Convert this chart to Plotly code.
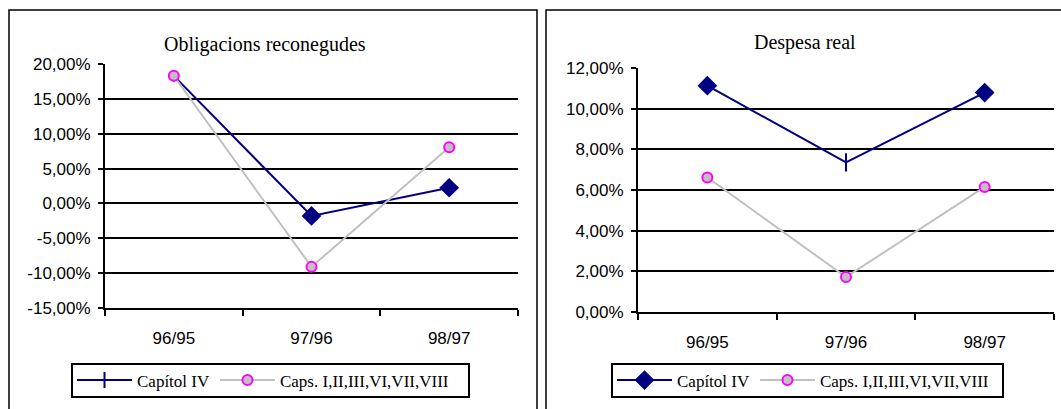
import plotly.graph_objects as go

W, H = 1061, 409

categories = ["96/95", "97/96", "98/97"]

# Left chart: Obligacions reconegudes (%)
oblig_cap4 = [18.3, -1.8, 2.25]
oblig_caps = [18.3, -9.1, 8.05]
oblig_ticks = [-15, -10, -5, 0, 5, 10, 15, 20]
oblig_ticktext = ["-15,00%", "-10,00%", "-5,00%", "0,00%", "5,00%", "10,00%", "15,00%", "20,00%"]

# Right chart: Despesa real (%)
desp_cap4 = [11.13, 7.36, 10.79]
desp_caps = [6.62, 1.72, 6.15]
desp_ticks = [0, 2, 4, 6, 8, 10, 12]
desp_ticktext = ["0,00%", "2,00%", "4,00%", "6,00%", "8,00%", "10,00%", "12,00%"]

series_names = ["Capítol IV", "Caps. I,II,III,VI,VII,VIII"]
titles = ["Obligacions reconegudes", "Despesa real"]

NAVY = "#000080"
GRAY = "#C0C0C0"
MAGENTA = "#FF00FF"
SERIF = "Liberation Serif, Times New Roman, serif"
SANS = "Liberation Sans, Arial, sans-serif"

def px(x):
    return x / W

def py(y):
    return 1 - y / H

fig = go.Figure()

# left chart traces
fig.add_trace(go.Scatter(
    x=categories, y=oblig_cap4, name=series_names[0], mode="lines+markers",
    line=dict(color=NAVY, width=2),
    marker=dict(symbol=["line-ns", "diamond", "diamond"], size=[8, 13, 13], color=NAVY,
                opacity=1, line=dict(color=NAVY, width=2)),
    xaxis="x", yaxis="y", legend="legend"))
fig.add_trace(go.Scatter(
    x=categories, y=oblig_caps, name=series_names[1], mode="lines+markers",
    line=dict(color=GRAY, width=2),
    marker=dict(symbol="circle", size=10, color=GRAY, opacity=1,
                line=dict(color=MAGENTA, width=2)),
    xaxis="x", yaxis="y", legend="legend"))

# right chart traces
fig.add_trace(go.Scatter(
    x=categories, y=desp_cap4, name=series_names[0], mode="lines+markers",
    line=dict(color=NAVY, width=2),
    marker=dict(symbol=["diamond", "line-ns", "diamond"], size=[13, 13, 13], color=NAVY,
                opacity=1, line=dict(color=NAVY, width=2)),
    xaxis="x2", yaxis="y2", legend="legend2"))
fig.add_trace(go.Scatter(
    x=categories, y=desp_caps, name=series_names[1], mode="lines+markers",
    line=dict(color=GRAY, width=2),
    marker=dict(symbol="circle", size=10, color=GRAY, opacity=1,
                line=dict(color=MAGENTA, width=2)),
    xaxis="x2", yaxis="y2", legend="legend2"))

tick_font = dict(family=SANS, size=17, color="black")

xaxis_common = dict(
    type="category", tickson="boundaries", ticks="outside", ticklen=6, tickwidth=2,
    tickcolor="black", showline=True, linecolor="black", linewidth=2,
    showgrid=False, zeroline=False, tickfont=tick_font, range=[-0.5, 2.5],
    ticklabelstandoff=14, fixedrange=True)
yaxis_common = dict(
    ticks="outside", ticklen=5, tickwidth=2, tickcolor="black",
    showline=True, linecolor="black", linewidth=2,
    showgrid=True, gridcolor="black", gridwidth=2, zeroline=False,
    tickfont=tick_font, ticklabelstandoff=4, fixedrange=True)

legend_font = dict(family=SERIF, size=17, color="black")

fig.update_layout(
    width=W, height=H, margin=dict(l=0, r=0, t=0, b=0, autoexpand=False),
    paper_bgcolor="white", plot_bgcolor="white",
    showlegend=True,
    xaxis=dict(xaxis_common, domain=[px(105), px(518)], anchor="y"),
    yaxis=dict(yaxis_common, domain=[py(308), py(64)], anchor="x",
               range=[-15, 20], tickvals=oblig_ticks, ticktext=oblig_ticktext),
    xaxis2=dict(xaxis_common, domain=[px(638), px(1054)], anchor="y2"),
    yaxis2=dict(yaxis_common, domain=[py(312), py(68)], anchor="x2",
                range=[0, 12], tickvals=desp_ticks, ticktext=desp_ticktext),
    legend=dict(orientation="h", x=px(72), y=py(380.5), xanchor="left", yanchor="middle",
                borderwidth=0, bgcolor="rgba(0,0,0,0)", font=legend_font,
                itemwidth=55, tracegroupgap=0),
    legend2=dict(orientation="h", x=px(612), y=py(380.5), xanchor="left", yanchor="middle",
                 borderwidth=0, bgcolor="rgba(0,0,0,0)", font=legend_font,
                 itemwidth=55, tracegroupgap=0),
    annotations=[
        dict(text=titles[0], x=px(265), y=py(44), xref="paper", yref="paper",
             xanchor="center", yanchor="middle",
             showarrow=False, font=dict(family=SERIF, size=20, color="black")),
        dict(text=titles[1], x=px(805), y=py(43), xref="paper", yref="paper",
             xanchor="center", yanchor="middle",
             showarrow=False, font=dict(family=SERIF, size=20, color="black")),
    ],
    shapes=[
        dict(type="rect", xref="paper", yref="paper", x0=px(9), x1=px(537), y0=py(420), y1=py(10),
             line=dict(color="black", width=1.5), layer="below"),
        dict(type="rect", xref="paper", yref="paper", x0=px(546), x1=px(1080), y0=py(420), y1=py(10),
             line=dict(color="black", width=1.5), layer="below"),
        dict(type="rect", xref="paper", yref="paper", x0=px(72), x1=px(469), y0=py(397), y1=py(364),
             line=dict(color="black", width=2), layer="below"),
        dict(type="rect", xref="paper", yref="paper", x0=px(612), x1=px(1003), y0=py(397), y1=py(364),
             line=dict(color="black", width=2), layer="below"),
    ],
)

fig.write_html("out.html", config={"displayModeBar": False},
               post_script="document.body.style.margin='0';document.body.style.overflow='hidden';")
